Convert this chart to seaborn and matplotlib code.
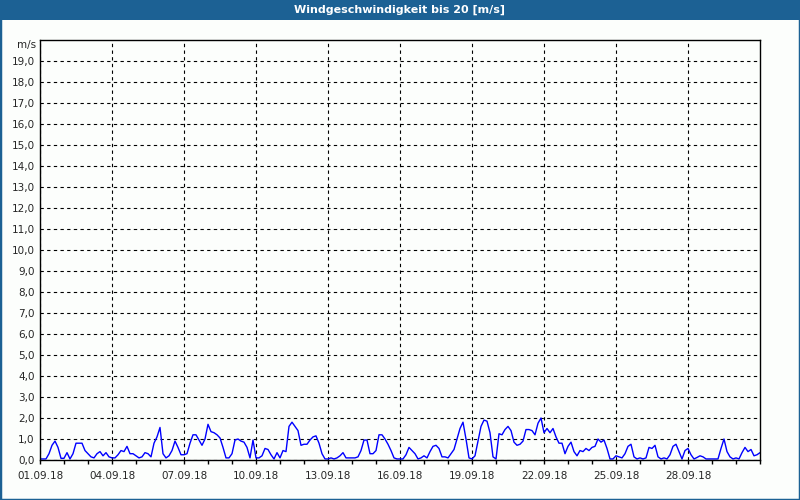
import numpy as np
import pandas as pd
import seaborn as sns
import matplotlib.pyplot as plt
import matplotlib.dates as mdates
from matplotlib.patches import Rectangle
from matplotlib.ticker import FuncFormatter

# wind speed in m/s, one value every 3 hours from 01.09.18 00:00
wind = [
    0.05, 0.05, 0.05, 0.3, 0.7, 0.9, 0.6, 0.08,
    0.08, 0.35, 0.05, 0.3, 0.8, 0.8, 0.8, 0.45,
    0.3, 0.15, 0.1, 0.3, 0.4, 0.2, 0.35, 0.15,
    0.1, 0.1, 0.25, 0.45, 0.4, 0.65, 0.3, 0.3,
    0.2, 0.1, 0.15, 0.35, 0.3, 0.15, 0.8, 1.1,
    1.55, 0.3, 0.1, 0.2, 0.45, 0.9, 0.6, 0.25,
    0.25, 0.3, 0.8, 1.2, 1.2, 0.95, 0.7, 1.0,
    1.7, 1.35, 1.3, 1.2, 1.05, 0.6, 0.1, 0.1,
    0.3, 0.95, 1.0, 0.9, 0.85, 0.6, 0.1, 0.95,
    0.1, 0.1, 0.2, 0.55, 0.5, 0.25, 0.05, 0.35,
    0.1, 0.45, 0.4, 1.6, 1.8, 1.6, 1.4, 0.7,
    0.75, 0.75, 0.95, 1.1, 1.15, 0.8, 0.3, 0.05,
    0.05, 0.1, 0.05, 0.1, 0.2, 0.35, 0.1, 0.1,
    0.1, 0.1, 0.15, 0.45, 0.95, 0.95, 0.3, 0.3,
    0.45, 1.2, 1.2, 1.0, 0.75, 0.45, 0.1, 0.05,
    0.05, 0.05, 0.25, 0.6, 0.45, 0.3, 0.05, 0.1,
    0.2, 0.1, 0.4, 0.65, 0.7, 0.55, 0.15, 0.15,
    0.1, 0.3, 0.5, 1.0, 1.5, 1.8, 1.0, 0.1,
    0.05, 0.2, 0.9, 1.6, 1.9, 1.85, 1.3, 0.15,
    0.05, 1.25, 1.2, 1.45, 1.6, 1.4, 0.85, 0.7,
    0.75, 0.9, 1.45, 1.45, 1.4, 1.2, 1.75, 2.0,
    1.3, 1.5, 1.3, 1.5, 1.1, 0.8, 0.8, 0.3,
    0.65, 0.85, 0.4, 0.2, 0.45, 0.4, 0.55, 0.45,
    0.6, 0.65, 1.0, 0.85, 0.95, 0.55, 0.05, 0.05,
    0.2, 0.15, 0.1, 0.3, 0.65, 0.75, 0.15, 0.05,
    0.1, 0.05, 0.1, 0.6, 0.55, 0.7, 0.15, 0.05,
    0.1, 0.05, 0.25, 0.65, 0.75, 0.4, 0.05, 0.45,
    0.55, 0.25, 0.05, 0.12, 0.2, 0.15, 0.05, 0.05,
    0.05, 0.05, 0.05, 0.55, 1.0, 0.4, 0.15, 0.05,
    0.1, 0.05, 0.35, 0.6, 0.4, 0.5, 0.2, 0.25,
    0.35,
]
start = "2018-09-01"
end = "2018-10-01"
x_label_days = ["2018-09-01", "2018-09-04", "2018-09-07", "2018-09-10", "2018-09-13",
                "2018-09-16", "2018-09-19", "2018-09-22", "2018-09-25", "2018-09-28"]
y_ticks = list(range(0, 20))
title = "Windgeschwindigkeit bis 20 [m/s]"
unit = "m/s"

times = pd.date_range(start, periods=len(wind), freq="3h")
df = pd.DataFrame({"time": times, "wind": wind})

sns.set_style("white")
plt.rcParams["font.family"] = ["DejaVu Sans"]
bg = "#fcfefc"
frame_blue = "#1c6194"

fig = plt.figure(figsize=(8, 5), dpi=100, facecolor=bg)
ax = fig.add_axes([0.05, 0.08, 0.9, 0.84], facecolor=bg)

sns.lineplot(data=df, x="time", y="wind", color="#0000ff", linewidth=1, ax=ax)

ax.set_xlim(pd.Timestamp(start), pd.Timestamp(end))
ax.set_ylim(0, 20)
ax.set_xlabel("")
ax.set_ylabel("")

ax.set_xticks(pd.to_datetime(x_label_days))
ax.xaxis.set_major_formatter(mdates.DateFormatter("%d.%m.%y"))
ax.xaxis.set_minor_locator(mdates.DayLocator())
ax.set_yticks(y_ticks)
ax.yaxis.set_major_formatter(FuncFormatter(lambda v, p: f"{v:.1f}".replace(".", ",")))

ax.tick_params(axis="x", which="both", direction="out", length=3, width=1,
               color="black", labelsize=7.5, pad=5, bottom=True)
ax.tick_params(axis="y", length=0, labelsize=7.5, pad=4, left=True)
ax.grid(True, which="major", color="black", linestyle=(0, (3, 3)), linewidth=0.8)
ax.set_axisbelow(True)
for s in ax.spines.values():
    s.set_color("black")
    s.set_linewidth(1)

ax.text(-0.005, 19.75, unit, transform=ax.get_yaxis_transform(),
        ha="right", va="center", fontsize=7.5)

# title bar and window frame
fig.patches.append(Rectangle((0, 0.96), 1, 0.04, transform=fig.transFigure,
                             facecolor=frame_blue, edgecolor="none", zorder=0))
fig.patches.append(Rectangle((0, 0), 1, 1, transform=fig.transFigure,
                             facecolor="none", edgecolor=frame_blue, linewidth=2.5, zorder=1))
fig.text(0.5, 0.98, title, color="white", fontsize=8, fontweight="bold",
         ha="center", va="center")

plt.savefig("out.png", dpi=100, facecolor=bg)
